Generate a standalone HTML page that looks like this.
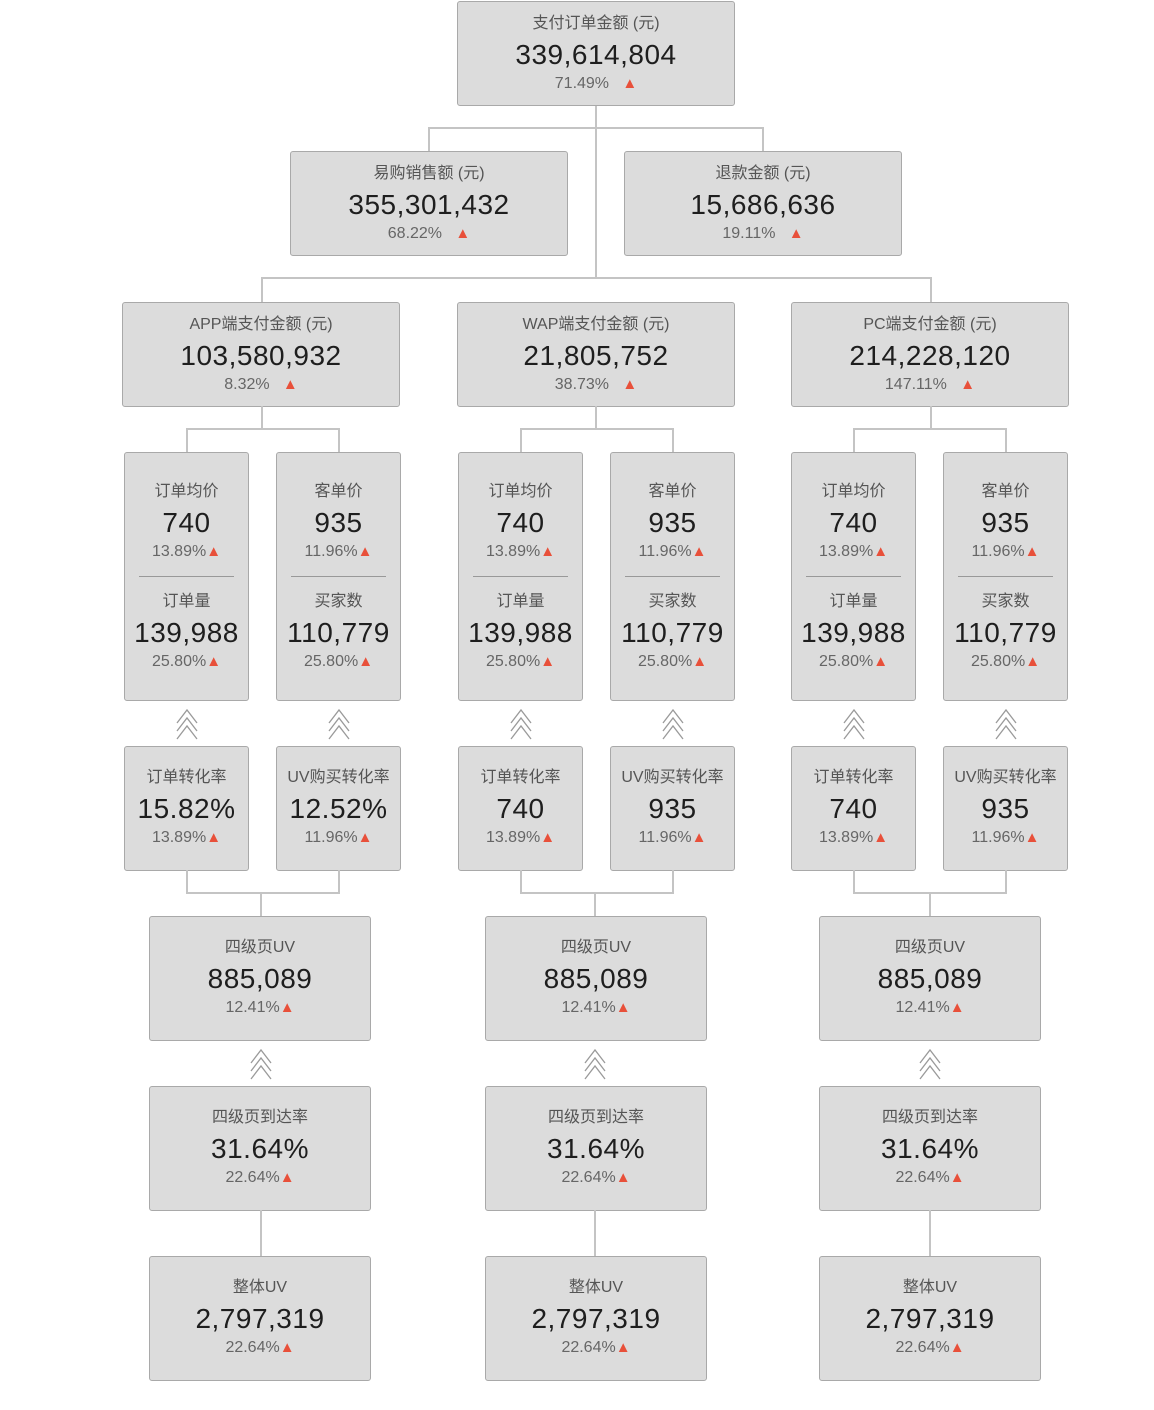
<!DOCTYPE html>
<html><head><meta charset="utf-8">
<style>
html,body{margin:0;padding:0;background:#fff;}
#root{position:relative;width:1154px;height:1410px;overflow:hidden;font-family:"Liberation Sans","Noto Sans CJK SC",sans-serif;}
.box{position:absolute;box-sizing:border-box;background:#dcdcdc;border:1px solid #a9a9a9;border-radius:3px;}
.t{position:absolute;left:0;right:0;text-align:center;white-space:nowrap;}
.ti{font-size:16px;color:#555;line-height:20px;}
.v{font-size:28px;color:#1e1e1e;line-height:32px;letter-spacing:0.5px;}
.p{font-size:16px;color:#666;line-height:20px;}
.tri{color:#e8503a;font-size:15px;}
.ln{position:absolute;background:#c4c4c4;}
.dv{position:absolute;height:1px;background:#999;}
.arr{position:absolute;}
</style></head><body>
<div id="root"></div>
<script>
const root=document.getElementById('root');
function line(x,y,w,h){
  const d=document.createElement('div');d.className='ln';
  d.style.cssText+=`left:${x}px;top:${y}px;width:${w}px;height:${h}px;`;
  
  
  root.appendChild(d);
}
function text(box,cls,str,y,name){
  const s=document.createElement('div');s.className='t '+cls;s.style.top=y+'px';s.innerHTML=str;
  
  
  box.appendChild(s);
}
function pct(v,gap){return v+(gap?'&nbsp;&nbsp;&nbsp;':'')+'<span class="tri">▲</span>';}
function box(x,y,w,h,name,rows,gap){
  const b=document.createElement('div');b.className='box';
  b.style.cssText+=`left:${x}px;top:${y}px;width:${w}px;height:${h}px;`;
  
  
  rows.forEach(r=>{
    const o=r[3];
    text(b,'ti',r[0],o-11,'metric-title');
    text(b,'v',r[1],o+14,'metric-value');
    text(b,'p',pct(r[2],gap),o+49,'metric-change');
  });
  if(rows.length>1){
    const d=document.createElement('div');d.className='dv';
    d.style.cssText+=`left:14px;width:${w-30}px;top:123px;`;
    
    
    b.appendChild(d);
  }
  root.appendChild(b);
}
function arrow(cx,y){
  const ns='http://www.w3.org/2000/svg';
  const s=document.createElementNS(ns,'svg');s.setAttribute('class','arr');
  s.setAttribute('width','24');s.setAttribute('height','34');
  s.style.left=(cx-12)+'px';s.style.top=y+'px';
  
  
  [0,8,16].forEach(o=>{const p=document.createElementNS(ns,'polyline');
    p.setAttribute('points',`2,${16+o} 12,${3+o} 22,${16+o}`);p.setAttribute('fill','none');
    p.setAttribute('stroke','#9a9a9a');p.setAttribute('stroke-width','1.3');s.appendChild(p);});
  root.appendChild(s);
}
line(595,105,2,174);
line(428,127,336,2);line(428,127,2,25);line(762,127,2,25);
line(261,277,671,2);line(261,277,2,25);line(930,277,2,25);
box(457,1,278,105,'total-payment-box',[['支付订单金额 (元)','339,614,804','71.49%',23]],true);
box(290,151,278,105,'sales-box',[['易购销售额 (元)','355,301,432','68.22%',23]],true);
box(624,151,278,105,'refund-box',[['退款金额 (元)','15,686,636','19.11%',23]],true);
const cols=[
 {cx:261,x:122,n:'app',t:'APP端支付金额 (元)',v:'103,580,932',p:'8.32%',l:124,r:276,c5:['订单转化率','15.82%','13.89%'],d5:['UV购买转化率','12.52%','11.96%'],bx:149},
 {cx:595,x:457,n:'wap',t:'WAP端支付金额 (元)',v:'21,805,752',p:'38.73%',l:458,r:610,c5:['订单转化率','740','13.89%'],d5:['UV购买转化率','935','11.96%'],bx:485},
 {cx:930,x:791,n:'pc',t:'PC端支付金额 (元)',v:'214,228,120',p:'147.11%',l:791,r:943,c5:['订单转化率','740','13.89%'],d5:['UV购买转化率','935','11.96%'],bx:819}
];
cols.forEach(c=>{
  box(c.x,302,278,105,c.n+'-payment-box',[[c.t,c.v,c.p,23]],true);
  const a=c.l+62,b=c.r+62;
  line(c.cx,406,2,23);line(a,428,b-a+2,2);line(a,428,2,24);line(b,428,2,24);
  box(c.l,452,125,249,c.n+'-avg-order-box',[['订单均价','740','13.89%',40],['订单量','139,988','25.80%',150]]);
  box(c.r,452,125,249,c.n+'-customer-price-box',[['客单价','935','11.96%',40],['买家数','110,779','25.80%',150]]);
  arrow(a+1,707);arrow(b+1,707);
  box(c.l,746,125,125,c.n+'-order-conv-box',[[c.c5[0],c.c5[1],c.c5[2],32]]);
  box(c.r,746,125,125,c.n+'-uv-conv-box',[[c.d5[0],c.d5[1],c.d5[2],32]]);
  line(a,870,2,24);line(b,870,2,24);line(a,892,b-a+2,2);line(c.cx-1,892,2,25);
  box(c.bx,916,222,125,c.n+'-l4-uv-box',[['四级页UV','885,089','12.41%',32]]);
  arrow(c.cx,1047);
  box(c.bx,1086,222,125,c.n+'-l4-reach-box',[['四级页到达率','31.64%','22.64%',32]]);
  line(c.cx-1,1210,2,46);
  box(c.bx,1256,222,125,c.n+'-total-uv-box',[['整体UV','2,797,319','22.64%',32]]);
});
</script>
</body></html>
